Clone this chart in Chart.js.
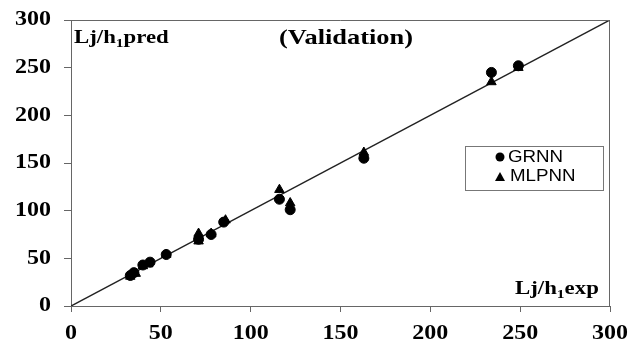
<!DOCTYPE html>
<html><head><meta charset="utf-8">
<script src="https://cdn.jsdelivr.net/npm/chart.js@4.4.0/dist/chart.umd.min.js"></script>
<style>html,body{margin:0;padding:0;background:#fff}#wrap{width:636px;height:341px}</style>
</head><body><div id="wrap"><canvas id="c" width="636" height="341"></canvas></div>
<script>
const xTicks = [0, 50, 100, 150, 200, 250, 300];
const yTicks = [0, 50, 100, 150, 200, 250, 300];
const grnnExp  = [33, 35, 40, 44, 53, 71, 78, 85, 116, 122, 163, 234, 249];
const grnnPred = [32, 35, 43, 46, 54, 70, 75, 88, 112, 101, 155, 245, 252];
const mlpExp   = [33, 36, 40, 43, 53, 71, 71, 78, 86, 116, 122, 163, 234, 249];
const mlpPred  = [31, 34, 42, 44, 54, 76, 68, 76, 90, 122, 108, 161, 235, 250];
const lineX = [0, 300];
const lineY = [0, 300];
const seriesNames = ['GRNN', 'MLPNN'];

const pts = (xs, ys) => xs.map((x, i) => ({x, y: ys[i]}));
const SX = 1.2;

function stretchText(ctx, text, x, y, align) {
  ctx.save();
  ctx.translate(x, y);
  ctx.scale(SX, 1);
  ctx.textAlign = align || 'left';
  ctx.fillText(text, 0, 0);
  ctx.restore();
}

const framePlugin = {
  id: 'frame',
  afterDraw(chart) {
    const {ctx, chartArea: a} = chart;
    ctx.save();
    ctx.strokeStyle = '#666';
    ctx.lineWidth = 1;
    ctx.beginPath();
    ctx.moveTo(a.left, a.top + 0.5); ctx.lineTo(a.right - 0.5, a.top + 0.5); ctx.lineTo(a.right - 0.5, a.bottom);
    ctx.stroke();
    ctx.fillStyle = '#000';
    // tick labels from the library's scales
    ctx.font = 'bold 20px "Liberation Serif"';
    ctx.textBaseline = 'middle';
    const xs = chart.scales.x, ys = chart.scales.y;
    xs.ticks.forEach(t => stretchText(ctx, String(t.value), xs.getPixelForValue(t.value), 334, 'center'));
    ys.ticks.forEach(t => stretchText(ctx, String(t.value), 51, ys.getPixelForValue(t.value), 'right'));
    // annotations
    ctx.textBaseline = 'alphabetic';
    const sub = (x, y, a1, s, b) => {
      ctx.save();
      ctx.translate(x, y); ctx.scale(SX, 1);
      ctx.font = 'bold 19px "Liberation Serif"';
      ctx.fillText(a1, 0, 0);
      let w = ctx.measureText(a1).width;
      ctx.font = 'bold 13px "Liberation Serif"';
      ctx.fillText(s, w, 4);
      let w2 = ctx.measureText(s).width;
      ctx.font = 'bold 19px "Liberation Serif"';
      ctx.fillText(b, w + w2, 0);
      ctx.restore();
    };
    sub(74, 43, 'Lj/h', '1', 'pred');
    sub(515, 294, 'Lj/h', '1', 'exp');
    ctx.font = 'bold 22px "Liberation Serif"';
    stretchText(ctx, '(Validation)', 279, 44, 'left');
    // legend
    const lx = 465, ly = 146, lw = 138, lh = 44;
    ctx.fillStyle = '#fff';
    ctx.fillRect(lx, ly, lw, lh);
    ctx.strokeStyle = '#777';
    ctx.strokeRect(lx + 0.5, ly + 0.5, lw, lh);
    ctx.fillStyle = '#000';
    ctx.beginPath(); ctx.arc(500, 157, 4.5, 0, Math.PI * 2); ctx.fill();
    ctx.beginPath(); ctx.moveTo(500, 172); ctx.lineTo(505, 181); ctx.lineTo(495, 181); ctx.closePath(); ctx.fill();
    ctx.font = '16px "Liberation Sans"';
    ctx.textBaseline = 'middle';
    ctx.save(); ctx.translate(508, 158); ctx.scale(1.17, 1); ctx.fillText(seriesNames[0], 0, 0); ctx.restore();
    ctx.save(); ctx.translate(510, 177); ctx.scale(1.17, 1); ctx.fillText(seriesNames[1], 0, 0); ctx.restore();
    ctx.restore();
  }
};

new Chart(document.getElementById('c'), {
  type: 'scatter',
  data: {
    datasets: [
      {label: 'line', type: 'line', data: pts(lineX, lineY), borderColor: '#222', borderWidth: 1.5, pointRadius: 0, fill: false, order: 3},
      {label: seriesNames[0], data: pts(grnnExp, grnnPred), pointStyle: 'circle', pointRadius: 5, backgroundColor: '#000', borderColor: '#000', order: 1},
      {label: seriesNames[1], data: pts(mlpExp, mlpPred), pointStyle: 'triangle', pointRadius: 5.5, backgroundColor: '#000', borderColor: '#000', order: 2}
    ]
  },
  options: {
    responsive: false,
    animation: false,
    devicePixelRatio: 1,
    layout: {padding: {top: 20, right: 26, left: 0, bottom: 0}},
    plugins: {legend: {display: false}, tooltip: {enabled: false}},
    scales: {
      x: {
        type: 'linear', min: 0, max: 300,
        afterBuildTicks: s => { s.ticks = xTicks.map(v => ({value: v})); },
        afterFit: s => { s.height = 35; },
        grid: {drawOnChartArea: false, drawTicks: true, tickLength: 6, color: '#666'},
        border: {display: true, color: '#666', width: 1},
        ticks: {display: false}
      },
      y: {
        type: 'linear', min: 0, max: 300,
        afterBuildTicks: s => { s.ticks = yTicks.map(v => ({value: v})); },
        afterFit: s => { s.width = 71; },
        grid: {drawOnChartArea: false, drawTicks: true, tickLength: 7, color: '#666'},
        border: {display: true, color: '#666', width: 1},
        ticks: {display: false}
      }
    }
  },
  plugins: [framePlugin]
});
</script>
</body></html>
